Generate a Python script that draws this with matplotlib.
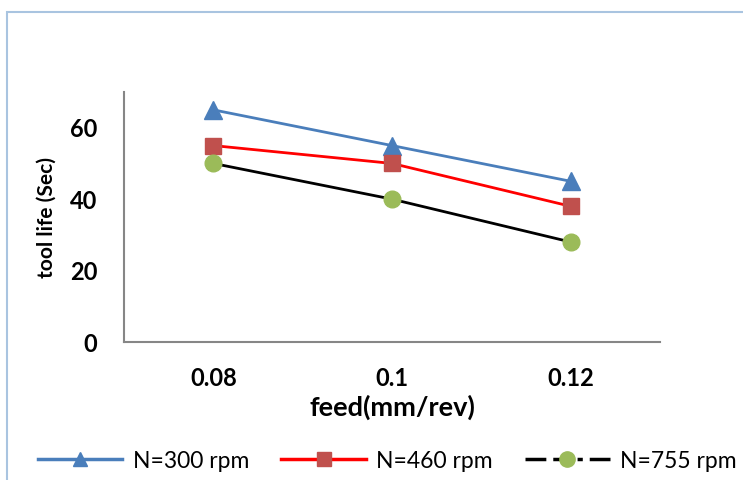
import matplotlib.pyplot as plt
import matplotlib.patches as patches
from matplotlib.lines import Line2D
import numpy as np

feeds = ['0.08', '0.1', '0.12']
n300 = [65, 55, 45]
n460 = [55, 50, 38]
n755 = [50, 40, 28]

plt.rcParams['font.family'] = ['Lato', 'DejaVu Sans']

fig = plt.figure(figsize=(7.43, 4.8), dpi=100)
ax = fig.add_axes([124/743, 1-342/480, (660-124)/743, (342-92)/480])

x = np.arange(len(feeds))
l1, = ax.plot(x, n300, color='#4A7EBB', lw=2, marker='^', ms=13, mfc='#4A7EBB', mec='#4A7EBB', label='N=300 rpm')
l2, = ax.plot(x, n460, color='#FF0000', lw=2, marker='s', ms=11, mfc='#C0504D', mec='#C0504D', label='N=460 rpm')
l3, = ax.plot(x, n755, color='black', lw=2, marker='o', ms=12, mfc='#9BBB59', mec='#9BBB59', label='N=755 rpm')

ax.set_xlim(-0.5, 2.5)
ax.set_ylim(0, 70)
ax.set_yticks([0, 20, 40, 60])
ax.set_xticks(x)
ax.set_xticklabels(feeds)
for s in ['top', 'right']:
    ax.spines[s].set_visible(False)
for s in ['left', 'bottom']:
    ax.spines[s].set_color('#868686')
    ax.spines[s].set_linewidth(1.5)
ax.tick_params(length=0, labelsize=17)
ax.tick_params(axis='y', pad=19)
ax.tick_params(axis='x', pad=18)
for lab in ax.get_xticklabels() + ax.get_yticklabels():
    lab.set_fontweight('bold')

ax.set_xlabel('feed(mm/rev)', fontsize=19.5, fontweight='bold', labelpad=3)
ax.set_ylabel('tool life (Sec)', fontsize=15, fontweight='bold', labelpad=10)

# legend: smaller markers, third handle dashed like the original
h1 = Line2D([], [], color='#4A7EBB', lw=2.5, marker='^', ms=10, mfc='#4A7EBB', mec='#4A7EBB')
h2 = Line2D([], [], color='#FF0000', lw=2.5, marker='s', ms=10, mfc='#C0504D', mec='#C0504D')
h3 = Line2D([], [], color='black', lw=2.5, ls=(0, (6, 2, 4, 3, 1.5, 2)),
            marker='o', ms=11, mfc='#9BBB59', mec='#9BBB59')
fig.legend([h1, h2, h3], ['N=300 rpm', 'N=460 rpm', 'N=755 rpm'],
           loc='center', bbox_to_anchor=(0.521, 1-461/480), ncol=3, frameon=False,
           fontsize=16.5, handlelength=3.7, columnspacing=1.4, handletextpad=0.45)

# outer chart border
fig.patches.append(patches.Rectangle((7/743, -0.05), 1.1, 1-12/480+0.05, transform=fig.transFigure,
                                     fill=False, edgecolor='#A9C4E0', lw=1.5))

fig.savefig('out.png', dpi=100)
